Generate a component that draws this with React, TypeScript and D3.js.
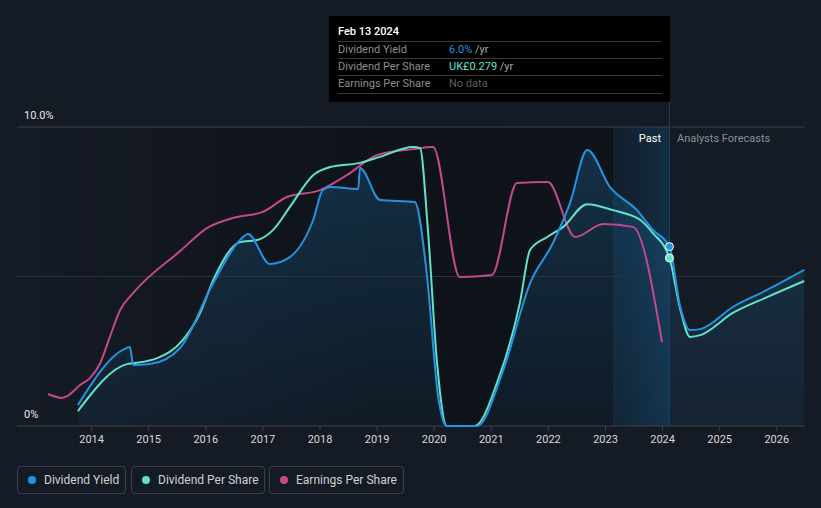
import React from "react";
import * as d3 from "d3";

const yearTicks = [2014, 2015, 2016, 2017, 2018, 2019, 2020, 2021, 2022, 2023, 2024, 2025, 2026];

const yieldT = [2013.76, 2014.58, 2014.67, 2014.73, 2015.02, 2015.55, 2016.13, 2016.6, 2016.74, 2017.12, 2017.47, 2017.88, 2018.05, 2018.18, 2018.67, 2018.7, 2019.05, 2019.66, 2019.87, 2020.07, 2020.22, 2020.75, 2021.21, 2021.68, 2022.08, 2022.38, 2022.68, 2023.08, 2023.55, 2023.83, 2024.12, 2024.31, 2024.48, 2024.66, 2025.23, 2025.83, 2026.48];
const yieldV = [0.7, 2.58, 2.64, 2.04, 2.07, 2.61, 4.78, 6.22, 6.42, 5.42, 5.65, 6.89, 7.89, 7.99, 7.93, 8.63, 7.56, 7.49, 5.1, 0.97, 0.0, 0.0, 1.87, 4.78, 6.12, 7.46, 9.23, 7.99, 7.22, 6.56, 6.0, 3.98, 3.21, 3.24, 3.98, 4.55, 5.22];

const dpsT = [2013.76, 2014.62, 2014.73, 2015.15, 2015.6, 2015.9, 2016.13, 2016.6, 2016.9, 2017.18, 2017.47, 2017.88, 2018.18, 2018.7, 2019.05, 2019.63, 2019.75, 2019.89, 2020.05, 2020.22, 2020.71, 2021.1, 2021.5, 2021.68, 2021.98, 2022.26, 2022.68, 2023.13, 2023.61, 2023.83, 2024.12, 2024.31, 2024.48, 2024.66, 2025.23, 2025.83, 2026.48];
const dpsV = [0.5, 2.07, 2.1, 2.27, 2.88, 3.78, 4.88, 6.15, 6.22, 6.56, 7.32, 8.39, 8.66, 8.8, 9.0, 9.33, 9.3, 6.56, 2.1, 0.0, 0.0, 1.44, 4.11, 5.89, 6.32, 6.66, 7.42, 7.22, 6.89, 6.45, 5.62, 3.9, 2.98, 3.04, 3.78, 4.31, 4.85];

const epsT = [2013.24, 2013.48, 2013.57, 2013.8, 2013.97, 2014.15, 2014.32, 2014.5, 2014.73, 2015.55, 2016.02, 2016.48, 2017.0, 2017.42, 2018.0, 2018.47, 2019.0, 2019.63, 2019.98, 2020.45, 2021.01, 2021.45, 2021.99, 2022.47, 2022.96, 2023.48, 2023.99];
const epsV = [1.07, 0.94, 1.0, 1.37, 1.6, 2.1, 2.98, 3.88, 4.45, 5.85, 6.62, 6.96, 7.16, 7.66, 7.89, 8.39, 9.06, 9.26, 9.33, 4.98, 5.05, 8.13, 8.16, 6.32, 6.76, 6.66, 2.81];

const nowT = 2024.12;
const highlightStartT = 2023.15;
const yTickLabels = ["0%", "10.0%"];
const legendNames = ["Dividend Yield", "Dividend Per Share", "Earnings Per Share"];
const tooltipRows = [
  { label: "Dividend Yield", value: "6.0%", unit: " /yr" },
  { label: "Dividend Per Share", value: "UK£0.279", unit: " /yr" },
  { label: "Earnings Per Share", value: "No data", unit: "" },
];

const COLORS = ["#2394df", "#62e2cb", "#c2498c"];
const FONT = "Roboto, 'Open Sans', sans-serif";

export default function App() {
  const W = 821, H = 508;
  const left = 17, right = 805, top = 127, bottom = 426;
  const x = d3.scaleLinear().domain([2014, 2026]).range([91.6, 776.8]);
  const y = d3.scaleLinear().domain([0, 10]).range([bottom, top]);

  const mk = (ts: number[], vs: number[]) => ts.map((t, i) => [t, vs[i]] as [number, number]);
  const yieldD = mk(yieldT, yieldV);
  const dpsD = mk(dpsT, dpsV);
  const epsD = mk(epsT, epsV);

  const line = d3.line<[number, number]>().x(d => x(d[0])).y(d => y(d[1])).curve(d3.curveMonotoneX);
  const area = d3.area<[number, number]>().x(d => x(d[0])).y0(bottom).y1(d => y(d[1])).curve(d3.curveMonotoneX);

  const nowX = x(nowT);
  const hx = x(highlightStartT);
  const yieldNow = 6.0;
  const dpsNow = 5.62;

  const legendBoxes = [
    { x: 17, w: 108 },
    { x: 131, w: 133 },
    { x: 269, w: 134 },
  ];

  return (
    <svg width={W} height={H} style={{ display: "block", position: "absolute", left: 0, top: 0, background: "#151b25" }}>
      <defs>
        <linearGradient id="pastShade" x1="0" x2="1" y1="0" y2="0">
          <stop offset="0" stopColor="#000" stopOpacity="0" />
          <stop offset="0.55" stopColor="#000" stopOpacity="0.32" />
          <stop offset="1" stopColor="#000" stopOpacity="0.3" />
        </linearGradient>
        <linearGradient id="hl" x1="0" x2="1" y1="0" y2="0">
          <stop offset="0" stopColor="#1f6ea8" stopOpacity="0.12" />
          <stop offset="1" stopColor="#1f7ec0" stopOpacity="0.25" />
        </linearGradient>
        <linearGradient id="areaFill" x1="0" x2="0" y1="0" y2="1">
          <stop offset="0" stopColor="#2394df" stopOpacity="0.22" />
          <stop offset="1" stopColor="#2394df" stopOpacity="0.06" />
        </linearGradient>
      </defs>
      <rect x={0} y={0} width={W} height={H} fill="#151b25" />
      <rect x={left} y={top} width={nowX - left} height={bottom - top} fill="url(#pastShade)" />
      <rect x={hx} y={top} width={nowX - hx} height={bottom - top} fill="url(#hl)" />
      <line x1={hx} x2={hx} y1={top} y2={bottom} stroke="#1d3a52" strokeWidth={1} opacity={0.6} />

      <path d={area(yieldD) || ""} fill="url(#areaFill)" />

      <line x1={left} x2={right} y1={y(5)} y2={y(5)} stroke="#2c323c" strokeWidth={1} />
      <line x1={left} x2={right} y1={top} y2={top} stroke="#3c424c" strokeWidth={1} />
      <line x1={left} x2={right} y1={bottom} y2={bottom} stroke="#3c424c" strokeWidth={1} />
      <line x1={nowX} x2={nowX} y1={16} y2={bottom} stroke="#1f4260" strokeWidth={1} />

      <text x={24} y={top - 8} fill="#e6e6e6" fontSize={11} fontFamily={FONT}>{yTickLabels[1]}</text>
      <text x={24} y={bottom - 8} fill="#e6e6e6" fontSize={11} fontFamily={FONT}>{yTickLabels[0]}</text>

      {yearTicks.map(t => (
        <g key={t}>
          <line x1={x(t)} x2={x(t)} y1={bottom} y2={bottom + 5} stroke="#3c424c" />
          <text x={x(t)} y={bottom + 17} fill="#d8d8d8" fontSize={11} textAnchor="middle" fontFamily={FONT}>{t}</text>
        </g>
      ))}

      <text x={661} y={142} fill="#ffffff" fontSize={11} textAnchor="end" fontFamily={FONT}>Past</text>
      <text x={677} y={142} fill="#8a9099" fontSize={11} fontFamily={FONT}>Analysts Forecasts</text>

      <path d={line(epsD) || ""} fill="none" stroke={COLORS[2]} strokeWidth={2} />
      <path d={line(dpsD) || ""} fill="none" stroke={COLORS[1]} strokeWidth={2} />
      <path d={line(yieldD) || ""} fill="none" stroke={COLORS[0]} strokeWidth={2} />

      <circle cx={x(nowT)} cy={y(yieldNow)} r={4} fill={COLORS[0]} stroke="#ffffff" strokeWidth={1} />
      <circle cx={x(nowT)} cy={y(dpsNow)} r={4} fill={COLORS[1]} stroke="#ffffff" strokeWidth={1} />

      <g fontFamily={FONT} fontSize={11}>
        <rect x={329} y={16} width={341} height={86} fill="#000" />
        <text x={338} y={35} fill="#ffffff" fontWeight={500}>Feb 13 2024</text>
        {[41, 58, 75, 93].map(ly => (
          <line key={ly} x1={338} x2={662} y1={ly + 0.5} y2={ly + 0.5} stroke="#3a3a3a" />
        ))}
        {tooltipRows.map((r, i) => (
          <g key={r.label}>
            <text x={338} y={53 + i * 17} fill="#8e8e8e">{r.label}</text>
            <text x={449} y={53 + i * 17} fill={i === 0 ? COLORS[0] : i === 1 ? COLORS[1] : "#5e5e5e"}>
              {r.value}
              <tspan fill="#a8a8a8">{r.unit}</tspan>
            </text>
          </g>
        ))}
      </g>

      {legendBoxes.map((b, i) => (
        <g key={i} fontFamily={FONT}>
          <rect x={b.x + 0.5} y={466.5} width={b.w} height={27} rx={3} fill="none" stroke="#3d434d" />
          <circle cx={b.x + 15} cy={480} r={4} fill={COLORS[i]} />
          <text x={b.x + 27} y={484} fill="#d0d0d0" fontSize={12}>{legendNames[i]}</text>
        </g>
      ))}
    </svg>
  );
}
